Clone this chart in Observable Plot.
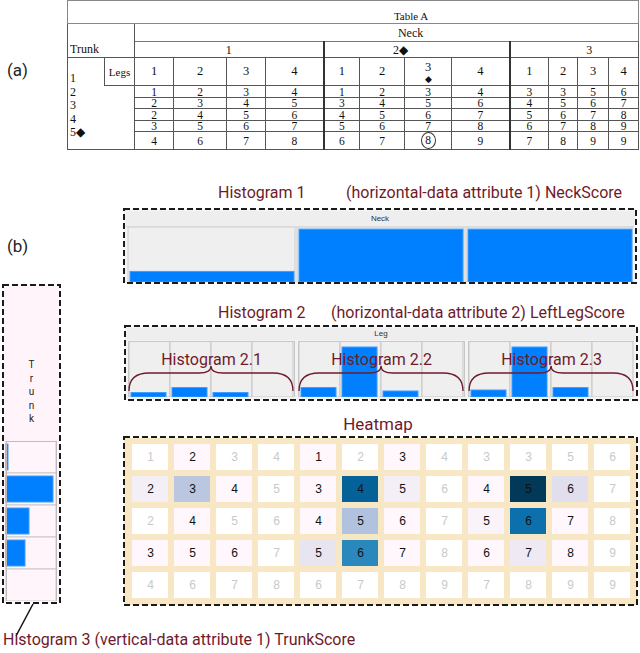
<!DOCTYPE html>
<html>
<head>
<meta charset="utf-8">
<script src="https://cdn.jsdelivr.net/npm/d3@7"></script>
<script src="https://cdn.jsdelivr.net/npm/@observablehq/plot@0.6"></script>
<style>
html,body{margin:0;padding:0;background:#fff;}
#root{position:relative;width:640px;height:653px;overflow:hidden;font-family:Roboto,"Noto Sans",sans-serif;background:#fff;}
.abs{position:absolute;}
.plab{font-size:17px;color:#222;line-height:20px;}
.ttl{font-size:16px;color:#6f1a2b;white-space:nowrap;line-height:18px;}
.hdr{position:absolute;font-size:8px;color:#333;text-align:center;line-height:10px;font-family:"Liberation Sans Narrow","Liberation Sans",sans-serif;}
table.ta{position:absolute;left:67px;top:0px;width:571px;height:148px;border-collapse:collapse;table-layout:fixed;font-family:"Liberation Serif","Times New Roman",serif;color:#111;}
table.ta td{border:1px solid #555;padding:0;text-align:center;vertical-align:middle;font-size:11.5px;line-height:10px;white-space:nowrap;overflow:visible;}
table.ta td.tt{font-size:11px;vertical-align:bottom;padding:0 0 2px 116px;border-color:#888;}
table.ta td.nk{padding-left:48px;border-color:#777;font-size:12px;}
table.ta td.trk{text-align:left;vertical-align:bottom;padding:0 0 3px 2px;font-size:12px;}
table.ta td.gp0,table.ta td.gp1,table.ta td.gp2{font-size:12px;}
table.ta td.gp1{padding-right:32px;}
table.ta td.gp2{padding-left:30px;}
table.ta td.sep{border-left:2px solid #333;}
table.ta td.tn{border-right:none;text-align:left;vertical-align:top;padding:14px 0 0 2px;font-size:12px;}
table.ta td.tn div{line-height:13.5px;height:13.5px;}
table.ta td.legs{font-size:11px;vertical-align:top;padding-top:9px;}
table.ta td.blank{border-left:none;}
table.ta td.lh{font-size:12.5px;line-height:11px;}
table.ta td.lhm{vertical-align:top;padding-top:3px;}
table.ta td.lhm .d3{display:block;line-height:12px;height:12px;}
table.ta td.lhm .dm{display:block;font-size:9px;line-height:10px;height:10px;margin-top:1px;}
table.ta td.last{line-height:14px;}
.circ{display:inline-block;width:13px;height:15px;line-height:15px;border:1px solid #333;border-radius:50%;}
</style>
</head>
<body>
<div id="root"></div>
<script>
// ---------------- data ----------------
const trunkLabels = ["1", "2", "3", "4", "5"];
const neckLabels = ["1", "2", "3"];
const legLabels = ["1", "2", "3", "4"];
const markedTrunk = "5", markedNeck = "2", markedLeg = "3";

// Table A scores: rows = trunk, columns = neck 1..3 x legs 1..4
const scoreRows = [
  [1, 2, 3, 4, 1, 2, 3, 4, 3, 3, 5, 6],
  [2, 3, 4, 5, 3, 4, 5, 6, 4, 5, 6, 7],
  [2, 4, 5, 6, 4, 5, 6, 7, 5, 6, 7, 8],
  [3, 5, 6, 7, 5, 6, 7, 8, 6, 7, 8, 9],
  [4, 6, 7, 8, 6, 7, 8, 9, 7, 8, 9, 9]
];

// Heatmap counts (estimated from the colour shading), same layout as scoreRows
const heatCounts = [
  [0, 1, 0, 0, 1, 0, 1, 0, 0, 0, 0, 0],
  [3, 10, 1, 0, 1, 25, 3, 0, 1, 30, 6, 0],
  [0, 1, 0, 0, 1, 11, 1, 0, 2, 23, 1, 0],
  [1, 1, 1, 0, 5, 20, 1, 0, 1, 4, 1, 0],
  [0, 0, 0, 0, 0, 0, 0, 0, 0, 0, 0, 0]
];

// Histogram 1: NeckScore
const neckCounts = [20, 100, 100];
// Histogram 2: LeftLegScore per neck group
const legCounts = [
  [9, 19, 9, 0],
  [19, 100, 12, 0],
  [14, 100, 19, 0]
];
// Histogram 3: TrunkScore
const trunkCounts = [2, 47, 23, 19, 0];

// ---------------- derived tables ----------------
const colKeys = neckLabels.flatMap(n => legLabels.map(l => n + "-" + l));
const heatTable = trunkLabels.flatMap((t, r) => colKeys.map((k, c) => ({trunk: t, col: k, score: scoreRows[r][c], count: heatCounts[r][c]})));
const neckTable = neckLabels.map((n, i) => ({neck: n, count: neckCounts[i]}));
const legTable = neckLabels.flatMap((n, i) => legLabels.map((l, j) => ({neck: n, leg: l, count: legCounts[i][j]})));
const trunkTable = trunkLabels.map((t, i) => ({trunk: t, count: trunkCounts[i]}));

const maroon = "#6f1a2b";
const barBlue = "#0080ff";
const barEdge = "#3f9dff";
const root = document.getElementById("root");

function place(el, left, top) {
  const d = document.createElement("div");
  d.className = "abs";
  d.style.left = left + "px";
  d.style.top = top + "px";
  d.appendChild(el);
  root.appendChild(d);
  return d;
}
function textDiv(txt, cls, left, top, extra) {
  const d = document.createElement("div");
  d.className = "abs " + cls;
  d.style.left = left + "px";
  d.style.top = top + "px";
  d.textContent = txt;
  if (extra) Object.assign(d.style, extra);
  root.appendChild(d);
  return d;
}
function rectDiv(left, top, w, h, bg, extra) {
  const d = document.createElement("div");
  d.className = "abs";
  Object.assign(d.style, {left: left + "px", top: top + "px", width: w + "px", height: h + "px", background: bg}, extra || {});
  root.appendChild(d);
  return d;
}

// ---------------- (a) Table A ----------------
textDiv("(a)", "plab", 7, 60);
const tableColWidths = [37, 30, 39, 53, 39, 58, 36, 45, 47, 58, 39, 29, 31, 30];
const dataRowHeights = [12, 11, 12, 11, 17];
let h = "<colgroup>" + tableColWidths.map(w => `<col style="width:${w}px">`).join("") + "</colgroup>";
h += `<tr style="height:23px"><td colspan="14" class="tt">Table A</td></tr>`;
h += `<tr style="height:18px"><td colspan="2" rowspan="2" class="trk">Trunk</td><td colspan="12" class="nk">Neck</td></tr>`;
h += `<tr style="height:16px">` + neckLabels.map((n, i) => `<td colspan="4" class="gp${i}${i > 0 ? " sep" : ""}">${n}${n === markedNeck ? "◆" : ""}</td>`).join("") + `</tr>`;
h += `<tr style="height:28px"><td rowspan="6" class="tn">` + trunkLabels.map(t => `<div>${t}${t === markedTrunk ? "◆" : ""}</div>`).join("") + `</td><td class="legs">Legs</td>`;
h += colKeys.map((k, c) => {
  const [n, l] = k.split("-");
  const mk = n === markedNeck && l === markedLeg;
  const content = mk ? `<span class="d3">${l}</span><span class="dm">◆</span>` : l;
  return `<td class="lh${mk ? " lhm" : ""}${c % 4 === 0 && c > 0 ? " sep" : ""}">${content}</td>`;
}).join("") + `</tr>`;
trunkLabels.forEach((t, r) => {
  h += `<tr style="height:${dataRowHeights[r]}px">` + (r === 0 ? `<td rowspan="5" class="blank"></td>` : "");
  h += colKeys.map((k, c) => {
    const [n, l] = k.split("-");
    const mk = t === markedTrunk && n === markedNeck && l === markedLeg;
    const v = scoreRows[r][c];
    return `<td class="${c % 4 === 0 && c > 0 ? "sep" : ""}${r === 4 ? " last" : ""}">${mk ? `<span class="circ">${v}</span>` : v}</td>`;
  }).join("") + `</tr>`;
});
const tbl = document.createElement("table");
tbl.className = "ta";
tbl.innerHTML = h;
root.appendChild(tbl);

// ---------------- (b) ----------------
textDiv("(b)", "plab", 7, 236);

// Histogram 1
textDiv("Histogram 1", "ttl", 218, 184);
textDiv("(horizontal-data attribute 1) NeckScore", "ttl", 346, 184);
rectDiv(124, 209, 512, 74, "#f3f3f3");
rectDiv(126, 211, 508, 15, "#eeeeee", {borderBottom: "1px solid #dadada"});
const hn = document.createElement("div"); hn.className = "hdr"; hn.style.cssText = "left:126px;top:214px;width:508px;"; hn.textContent = "Neck"; root.appendChild(hn);

const hist1 = Plot.plot({
  width: 506, height: 55, margin: 0,
  style: {background: "transparent"},
  x: {domain: neckLabels, paddingInner: 0.012, paddingOuter: 0, axis: null},
  y: {domain: [0, 104], axis: null},
  marks: [
    Plot.cell(neckLabels, {x: d => d, fill: "#efefef", stroke: "#cdcdcd"}),
    Plot.barY(neckTable, {filter: d => d.count > 0, x: "neck", y: "count", fill: barBlue, stroke: barEdge, insetLeft: 2, insetRight: 1})
  ]
});
place(hist1, 127, 227);

// Histogram 2
textDiv("Histogram 2", "ttl", 218, 304);
textDiv("(horizontal-data attribute 2) LeftLegScore", "ttl", 331, 304);
rectDiv(125, 326, 512, 74, "#f3f3f3");
rectDiv(127, 328, 508, 12, "#eeeeee");
const hl = document.createElement("div"); hl.className = "hdr"; hl.style.cssText = "left:127px;top:329px;width:508px;"; hl.textContent = "Leg"; root.appendChild(hl);

const hist2 = Plot.plot({
  width: 506, height: 56, margin: 0,
  style: {background: "transparent", fontFamily: "Roboto, sans-serif"},
  facet: {data: legTable, x: "neck", marginTop: 0, marginRight: 0, marginBottom: 0, marginLeft: 0},
  fx: {domain: neckLabels, paddingInner: 0.024, paddingOuter: 0, axis: null},
  x: {domain: legLabels, padding: 0, axis: null},
  y: {domain: [0, 112], axis: null},
  marks: [
    Plot.cell(legTable, {x: "leg", fill: "#efefef", stroke: "#c6c6c6"}),
    Plot.barY(legTable, {filter: d => d.count > 0, x: "leg", y: "count", fill: barBlue, stroke: barEdge, insetLeft: 2, insetRight: 4}),
    Plot.frame({stroke: "#c8c8c8"}),
    Plot.text(legTable, {filter: d => d.leg === legLabels[0], text: d => "Histogram 2." + d.neck, frameAnchor: "top", lineAnchor: "middle", dy: 18, fill: maroon, fontSize: 16})
  ]
});
place(hist2, 128, 341);

// Heatmap
textDiv("Heatmap", "ttl", 0, 415, {width: "756px", textAlign: "center", fontSize: "17px"});
rectDiv(124, 438, 513, 167, "#f7e7c4");
const heat = Plot.plot({
  width: 515, height: 169, marginLeft: 4, marginRight: 3, marginTop: 5, marginBottom: 5,
  style: {background: "transparent", fontFamily: "'Liberation Sans Narrow', 'Liberation Sans', sans-serif"},
  x: {domain: colKeys, paddingInner: 0.135, paddingOuter: 0, axis: null},
  y: {domain: trunkLabels, paddingInner: 0.18, paddingOuter: 0, axis: null},
  color: {type: "linear", scheme: "pubu", domain: [1, 30], clamp: true},
  marks: [
    Plot.cell(heatTable, {filter: d => d.count === 0, x: "col", y: "trunk", fill: "#ffffff"}),
    Plot.cell(heatTable, {filter: d => d.count > 0, x: "col", y: "trunk", fill: "count"}),
    Plot.text(heatTable, {filter: d => d.count === 0, x: "col", y: "trunk", text: "score", fill: "#c9c9c9", fontSize: 12}),
    Plot.text(heatTable, {filter: d => d.count > 0, x: "col", y: "trunk", text: "score", fill: "#111", fontSize: 12})
  ]
});
place(heat, 123, 437);

// Histogram 3 (vertical)
rectDiv(3, 285, 57, 318, "#fff4f9");
const trunkWord = document.createElement("div");
trunkWord.className = "abs";
trunkWord.style.cssText = "left:3px;top:358px;width:57px;text-align:center;font-size:10px;line-height:13.5px;color:#222;";
trunkWord.innerHTML = "Trunk".split("").join("<br>");
root.appendChild(trunkWord);
const hist3 = Plot.plot({
  width: 52, height: 160, margin: 0, marginLeft: 1, marginRight: 1,
  style: {background: "transparent"},
  y: {domain: trunkLabels, padding: 0, axis: null},
  x: {domain: [0, 50], axis: null},
  marks: [
    Plot.cell(trunkTable, {y: "trunk", fill: "#fff5fa", stroke: "#c8c8c8"}),
    Plot.barX(trunkTable, {filter: d => d.count > 0, y: "trunk", x: "count", fill: barBlue, stroke: barEdge, insetTop: 3, insetBottom: 3}),
    Plot.frame({stroke: "#bdbdbd"})
  ]
});
place(hist3, 5, 441);

textDiv("Histogram 3 (vertical-data attribute 1) TrunkScore", "ttl", 3, 631, {fontSize: "16px"});

// ---------------- overlay: dashed boxes, braces, leader ----------------
const ov = d3.select(root).append("svg")
  .attr("width", 640).attr("height", 653)
  .style("position", "absolute").style("left", 0).style("top", 0).style("pointer-events", "none");
const boxes = [[124, 209, 512, 74], [125, 326, 512, 74], [124, 437, 513, 168], [3, 285, 57, 318]];
ov.selectAll("rect.db").data(boxes).join("rect")
  .attr("x", d => d[0]).attr("y", d => d[1]).attr("width", d => d[2]).attr("height", d => d[3])
  .attr("fill", "none").attr("stroke", "#1a1a1a").attr("stroke-width", 2).attr("stroke-dasharray", "6,3");

const fxBand = d3.scaleBand().domain(neckLabels).range([128, 634]).paddingInner(0.024).paddingOuter(0);
function bracePath(x0, x1) {
  const xm = (x0 + x1) / 2, ye = 391, yh = 373, yt = 366;
  return `M${x0},${ye} C${x0},${yh + 6} ${x0 + 6},${yh} ${x0 + 20},${yh} L${xm - 12},${yh} C${xm - 4},${yh} ${xm},${yh - 2} ${xm},${yt} C${xm},${yh - 2} ${xm + 4},${yh} ${xm + 12},${yh} L${x1 - 20},${yh} C${x1 - 6},${yh} ${x1},${yh + 6} ${x1},${ye}`;
}
ov.selectAll("path.brace").data(neckLabels).join("path")
  .attr("d", n => bracePath(fxBand(n) + 1, fxBand(n) + fxBand.bandwidth() - 1))
  .attr("fill", "none").attr("stroke", maroon).attr("stroke-width", 1.3);

ov.append("line").attr("x1", 33).attr("y1", 604).attr("x2", 16).attr("y2", 636)
  .attr("stroke", "#111").attr("stroke-width", 1.5);
</script>
</body>
</html>
